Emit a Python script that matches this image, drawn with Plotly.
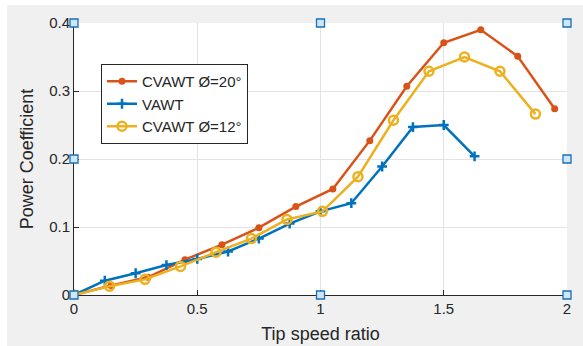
import plotly.graph_objects as go

# Data
x_cv20 = [0, 0.15, 0.30, 0.45, 0.60, 0.75, 0.90, 1.05, 1.20, 1.35, 1.50, 1.65, 1.80, 1.95]
y_cv20 = [0, 0.014, 0.026, 0.052, 0.074, 0.099, 0.130, 0.156, 0.227, 0.307, 0.371, 0.390, 0.351, 0.274]

x_vawt = [0, 0.125, 0.25, 0.375, 0.5, 0.625, 0.75, 0.875, 1.0, 1.125, 1.25, 1.375, 1.5, 1.625]
y_vawt = [0, 0.021, 0.032, 0.044, 0.053, 0.064, 0.083, 0.105, 0.123, 0.135, 0.189, 0.247, 0.250, 0.204]

x_cv12 = [0, 0.144, 0.288, 0.432, 0.576, 0.72, 0.864, 1.008, 1.152, 1.296, 1.44, 1.584, 1.728, 1.872]
y_cv12 = [0, 0.013, 0.023, 0.042, 0.063, 0.083, 0.111, 0.123, 0.174, 0.257, 0.329, 0.350, 0.329, 0.266]

x_ticks = [0, 0.5, 1, 1.5, 2]
x_ticklabels = ["0", "0.5", "1", "1.5", "2"]
y_ticks = [0, 0.1, 0.2, 0.3, 0.4]
y_ticklabels = ["0", "0.1", "0.2", "0.3", "0.4"]

ORANGE = "#D95319"
BLUE = "#0072BD"
YELLOW = "#EDB120"
FONT = "Liberation Sans, Arial, Helvetica, sans-serif"
TXT = "#262626"

fig = go.Figure()
fig.add_trace(go.Scatter(
    x=x_cv20, y=y_cv20, mode="lines+markers", name="CVAWT Ø=20°",
    line=dict(color=ORANGE, width=2.5),
    marker=dict(symbol="circle", size=7, color=ORANGE),
))
fig.add_trace(go.Scatter(
    x=x_vawt, y=y_vawt, mode="lines+markers", name="VAWT",
    line=dict(color=BLUE, width=2.5),
    marker=dict(symbol="cross-thin", size=7, line=dict(color=BLUE, width=2.5)),
))
fig.add_trace(go.Scatter(
    x=x_cv12, y=y_cv12, mode="lines+markers", name="CVAWT Ø=12°",
    line=dict(color=YELLOW, width=2.5),
    marker=dict(symbol="circle-open", size=9, line=dict(color=YELLOW, width=2.5)),
))

# Plot area pixel geometry
L, R, T, B = 74, 567, 23, 295
W, H = 583, 346
pw, ph = R - L, B - T

def px_to_paper_x(px):
    return (px - L) / pw

def px_to_paper_y(py):
    return (B - py) / ph

shapes = []
# white strips at the outer top/left edges
shapes.append(dict(type="rect", xref="paper", yref="paper", layer="below",
                   x0=px_to_paper_x(0), x1=px_to_paper_x(W), y0=px_to_paper_y(5), y1=px_to_paper_y(0),
                   fillcolor="white", line=dict(width=0)))
shapes.append(dict(type="rect", xref="paper", yref="paper", layer="below",
                   x0=px_to_paper_x(0), x1=px_to_paper_x(7), y0=px_to_paper_y(H), y1=px_to_paper_y(0),
                   fillcolor="white", line=dict(width=0)))
# selection handles (corners and edge midpoints)
for hx, hy in [(0, 0), (0.5, 0), (1, 0), (0, 0.5), (1, 0.5), (0, 1), (0.5, 1), (1, 1)]:
    shapes.append(dict(type="rect", xref="paper", yref="paper", layer="above",
                       xsizemode="pixel", ysizemode="pixel", xanchor=hx, yanchor=hy,
                       x0=-4, x1=4, y0=-4, y1=4,
                       fillcolor="#cfe6f8", line=dict(color="#1a6fb5", width=1.3)))

fig.update_layout(
    width=W, height=H,
    margin=dict(l=L, r=W - R, t=T, b=H - B, pad=0, autoexpand=False),
    paper_bgcolor="#f0f0f0",
    plot_bgcolor="white",
    font=dict(family=FONT, size=15, color=TXT),
    shapes=shapes,
    showlegend=True,
    legend=dict(
        x=px_to_paper_x(101), y=px_to_paper_y(64), xanchor="left", yanchor="top",
        bgcolor="white", bordercolor=TXT, borderwidth=1,
        font=dict(family=FONT, size=15, color=TXT),
        tracegroupgap=0, itemwidth=30,
    ),
    xaxis=dict(
        range=[0, 2], tickvals=x_ticks, ticktext=x_ticklabels,
        showgrid=True, gridcolor="#e3e3e3", gridwidth=1,
        zeroline=False, showline=True, linecolor=TXT, linewidth=1,
        ticks="inside", ticklen=5, tickcolor=TXT, automargin=False,
        title=dict(text="Tip speed ratio", font=dict(size=18, family=FONT, color=TXT), standoff=11),
        tickfont=dict(size=15, color=TXT),
        fixedrange=True,
    ),
    yaxis=dict(
        range=[0, 0.4], tickvals=y_ticks, ticktext=y_ticklabels,
        showgrid=True, gridcolor="#e3e3e3", gridwidth=1,
        zeroline=False, showline=True, linecolor=TXT, linewidth=1,
        ticks="inside", ticklen=5, tickcolor=TXT, automargin=False,
        title=dict(text="Power Coefficient", font=dict(size=18, family=FONT, color=TXT), standoff=10),
        tickfont=dict(size=15, color=TXT),
        fixedrange=True,
    ),
)

fig.write_html("out.html", config={"displayModeBar": False})
